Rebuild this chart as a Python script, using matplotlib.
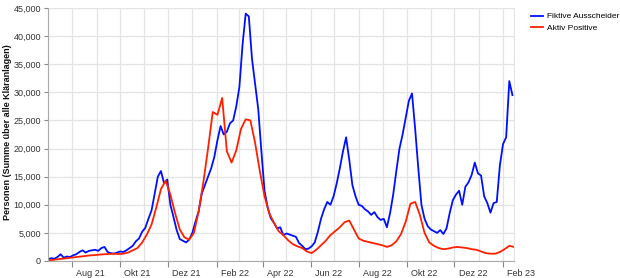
import matplotlib
matplotlib.use("Agg")
import matplotlib.pyplot as plt
import matplotlib.dates as mdates
from matplotlib.ticker import FuncFormatter, MultipleLocator
from matplotlib.transforms import ScaledTranslation
import pandas as pd

plt.rcParams['font.family'] = ['Liberation Sans', 'DejaVu Sans']

# Fiktive Ausscheider, every 4 days from 2021-07-01
blue_start = "2021-07-01"
blue_vals = [
    300, 500, 400, 700, 1200, 600, 800, 700, 1000, 1200,
    1600, 1900, 1500, 1800, 1900, 2000, 1800, 2300, 2500, 1600,
    1400, 1300, 1500, 1700, 1600, 1900, 2300, 2700, 3500, 4000,
    5200, 5900, 7500, 9000, 12000, 15000, 16000, 13800, 14500, 10000,
    7800, 5500, 3900, 3600, 3300, 3800, 5000, 7000, 8800, 12000,
    13500, 15000, 16500, 18500, 21500, 24000, 22500, 23000, 24500, 25000,
    27500, 31000, 38500, 44000, 43500, 36000, 31500, 27000, 19500, 12500,
    9500, 7600, 6800, 5800, 6000, 4600, 4900, 4700, 4500, 4300,
    3200, 2700, 2100, 2200, 2600, 3300, 5200, 7500, 9200, 10500,
    10000, 11500, 13800, 16500, 19500, 22000, 18000, 13500, 11500, 10000,
    9800, 9200, 8800, 8200, 8700, 7800, 7300, 7500, 6000, 8500,
    11800, 16000, 20000, 22500, 25500, 28500, 29800, 23500, 16500, 10000,
    7500, 6200, 5600, 5300, 5000, 5500, 4800, 5800, 8500, 10800,
    11800, 12500, 10000, 13200, 14000, 15300, 17500, 15600, 15200, 11500,
    10300, 8600, 10300, 10500, 17000, 20800, 22000, 32000, 29500,
]

# Aktiv Positive, every 6 days from 2021-07-01
red_start = "2021-07-01"
red_vals = [
    100, 200, 300, 400, 500, 600, 700, 800, 900, 1000,
    1050, 1150, 1200, 1250, 1300, 1250, 1300, 1500, 1900, 2300,
    3300, 4700, 6500, 9500, 12800, 14300, 11800, 8500, 5600, 4200,
    3800, 5000, 8800, 14000, 20000, 26500, 26000, 29000, 19500, 17500,
    19700, 23500, 25200, 25000, 21000, 16000, 11500, 8500, 6800, 5300,
    4600, 3700, 3000, 2600, 2300, 1700, 1400, 2000, 2800, 3600,
    4600, 5300, 6000, 6900, 7200, 5600, 4000, 3600, 3400, 3200,
    3000, 2800, 2500, 2800, 3500, 4800, 7000, 10200, 10500, 8200,
    5000, 3300, 2700, 2300, 2100, 2200, 2400, 2500, 2400, 2300,
    2100, 2000, 1700, 1400, 1300, 1300, 1600, 2100, 2700, 2500,
]

blue_dates = pd.date_range(blue_start, periods=len(blue_vals), freq="4D")
red_dates = pd.date_range(red_start, periods=len(red_vals), freq="6D")

month_names = ["Jan", "Feb", "Mär", "Apr", "Mai", "Jun",
               "Jul", "Aug", "Sep", "Okt", "Nov", "Dez"]

fig = plt.figure(figsize=(6.2, 2.78), dpi=100)
ax = fig.add_axes([48 / 620, 17 / 278, 466 / 620, 253 / 278])

ax.plot(blue_dates, blue_vals, color="#0010ff", lw=1.3, label="Fiktive Ausscheider")
ax.plot(red_dates, red_vals, color="#ff2000", lw=1.3, label="Aktiv Positive")

ax.set_xlim(pd.Timestamp("2021-07-01"), pd.Timestamp("2023-02-15"))
ax.set_ylim(0, 45000)

# grid: every month vertically, every 5000 horizontally
ax.xaxis.set_minor_locator(mdates.MonthLocator())
ax.xaxis.set_major_locator(mdates.MonthLocator(bymonth=[2, 4, 6, 8, 10, 12]))
ax.xaxis.set_major_formatter(FuncFormatter(
    lambda v, p: f"{month_names[mdates.num2date(v).month - 1]} {mdates.num2date(v).year % 100:02d}"))
ax.yaxis.set_major_locator(MultipleLocator(5000))
ax.yaxis.set_major_formatter(FuncFormatter(lambda v, p: f"{int(v):,}"))

ax.grid(True, which="both", axis="x", color="#e3e3e3", lw=0.9)
ax.grid(True, which="major", axis="y", color="#e3e3e3", lw=0.9)
ax.set_axisbelow(True)

ax.spines["top"].set_visible(False)
ax.spines["right"].set_color("#e3e3e3")
ax.spines["left"].set_color("#aaaaaa")
ax.spines["bottom"].set_color("#aaaaaa")

ax.tick_params(axis="x", which="major", length=4, color="#888888", labelsize=6.5,
               labelcolor="#333333", pad=2)
ax.tick_params(axis="x", which="minor", length=0)
ax.tick_params(axis="y", length=3, color="#888888", labelsize=6.5, labelcolor="#333333", pad=2)

offset = ScaledTranslation(3 / 72, 0, fig.dpi_scale_trans)
for lab in ax.get_xticklabels():
    lab.set_horizontalalignment("left")
    lab.set_transform(lab.get_transform() + offset)

fig.text(8 / 620, 1 - 132 / 278, "Personen (Summe über alle Kläranlagen)", rotation=90,
         ha="center", va="center", fontsize=6.5, fontweight="bold", color="#111111")

ax.legend(loc="upper left", bbox_to_anchor=(1.03, 0.995), frameon=False, fontsize=6,
          handlelength=1.4, handletextpad=0.5, labelspacing=0.45, borderaxespad=0)

fig.savefig("out.png", dpi=100)
